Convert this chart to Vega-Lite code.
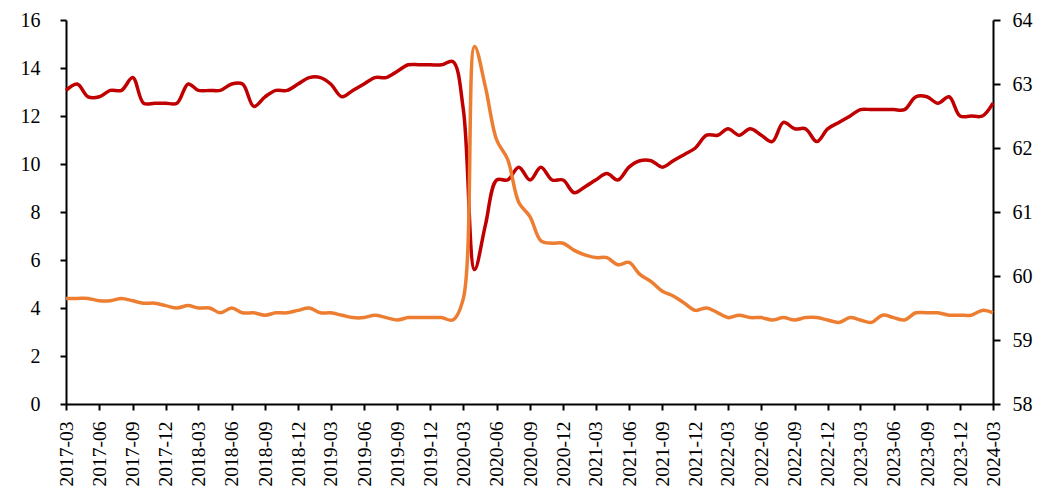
{
  "$schema": "https://vega.github.io/schema/vega-lite/v6.json",
  "width": 927,
  "height": 384,
  "autosize": {"type": "none"},
  "padding": {"left": 66, "top": 20, "right": 50, "bottom": 96},
  "background": "white",
  "config": {
    "view": {"stroke": null},
    "font": "Liberation Serif",
    "axis": {
      "labelFont": "Liberation Serif",
      "labelFontSize": 20,
      "labelColor": "black",
      "domainColor": "black",
      "tickColor": "black",
      "domainWidth": 2,
      "tickWidth": 2,
      "grid": false,
      "title": null,
      "labelOverlap": false,
      "labelBound": false,
      "labelFlush": false
    }
  },
  "data": {
    "values": [
      {"month": "2017-03", "u": 4.4, "p": 62.9},
      {"month": "2017-04", "u": 4.4, "p": 63.0},
      {"month": "2017-05", "u": 4.4, "p": 62.8},
      {"month": "2017-06", "u": 4.3, "p": 62.8},
      {"month": "2017-07", "u": 4.3, "p": 62.9},
      {"month": "2017-08", "u": 4.4, "p": 62.9},
      {"month": "2017-09", "u": 4.3, "p": 63.1},
      {"month": "2017-10", "u": 4.2, "p": 62.7},
      {"month": "2017-11", "u": 4.2, "p": 62.7},
      {"month": "2017-12", "u": 4.1, "p": 62.7},
      {"month": "2018-01", "u": 4.0, "p": 62.7},
      {"month": "2018-02", "u": 4.1, "p": 63.0},
      {"month": "2018-03", "u": 4.0, "p": 62.9},
      {"month": "2018-04", "u": 4.0, "p": 62.9},
      {"month": "2018-05", "u": 3.8, "p": 62.9},
      {"month": "2018-06", "u": 4.0, "p": 63.0},
      {"month": "2018-07", "u": 3.8, "p": 63.0},
      {"month": "2018-08", "u": 3.8, "p": 62.65},
      {"month": "2018-09", "u": 3.7, "p": 62.8},
      {"month": "2018-10", "u": 3.8, "p": 62.9},
      {"month": "2018-11", "u": 3.8, "p": 62.9},
      {"month": "2018-12", "u": 3.9, "p": 63.0},
      {"month": "2019-01", "u": 4.0, "p": 63.1},
      {"month": "2019-02", "u": 3.8, "p": 63.1},
      {"month": "2019-03", "u": 3.8, "p": 63.0},
      {"month": "2019-04", "u": 3.7, "p": 62.8},
      {"month": "2019-05", "u": 3.6, "p": 62.9},
      {"month": "2019-06", "u": 3.6, "p": 63.0},
      {"month": "2019-07", "u": 3.7, "p": 63.1},
      {"month": "2019-08", "u": 3.6, "p": 63.1},
      {"month": "2019-09", "u": 3.5, "p": 63.2},
      {"month": "2019-10", "u": 3.6, "p": 63.3},
      {"month": "2019-11", "u": 3.6, "p": 63.3},
      {"month": "2019-12", "u": 3.6, "p": 63.3},
      {"month": "2020-01", "u": 3.6, "p": 63.3},
      {"month": "2020-02", "u": 3.5, "p": 63.35},
      {"month": "2020-03", "u": 4.4, "p": 62.6},
      {"month": "2020-04", "u": 14.9, "p": 60.1},
      {"month": "2020-05", "u": 13.2, "p": 60.8},
      {"month": "2020-06", "u": 11.0, "p": 61.5},
      {"month": "2020-07", "u": 10.2, "p": 61.5},
      {"month": "2020-08", "u": 8.4, "p": 61.7},
      {"month": "2020-09", "u": 7.8, "p": 61.5},
      {"month": "2020-10", "u": 6.8, "p": 61.7},
      {"month": "2020-11", "u": 6.7, "p": 61.5},
      {"month": "2020-12", "u": 6.7, "p": 61.5},
      {"month": "2021-01", "u": 6.4, "p": 61.3},
      {"month": "2021-02", "u": 6.2, "p": 61.4},
      {"month": "2021-03", "u": 6.1, "p": 61.5},
      {"month": "2021-04", "u": 6.1, "p": 61.6},
      {"month": "2021-05", "u": 5.8, "p": 61.5},
      {"month": "2021-06", "u": 5.9, "p": 61.7},
      {"month": "2021-07", "u": 5.4, "p": 61.8},
      {"month": "2021-08", "u": 5.1, "p": 61.8},
      {"month": "2021-09", "u": 4.7, "p": 61.7},
      {"month": "2021-10", "u": 4.5, "p": 61.8},
      {"month": "2021-11", "u": 4.2, "p": 61.9},
      {"month": "2021-12", "u": 3.9, "p": 62.0},
      {"month": "2022-01", "u": 4.0, "p": 62.2},
      {"month": "2022-02", "u": 3.8, "p": 62.2},
      {"month": "2022-03", "u": 3.6, "p": 62.3},
      {"month": "2022-04", "u": 3.7, "p": 62.2},
      {"month": "2022-05", "u": 3.6, "p": 62.3},
      {"month": "2022-06", "u": 3.6, "p": 62.2},
      {"month": "2022-07", "u": 3.5, "p": 62.1},
      {"month": "2022-08", "u": 3.6, "p": 62.4},
      {"month": "2022-09", "u": 3.5, "p": 62.3},
      {"month": "2022-10", "u": 3.6, "p": 62.3},
      {"month": "2022-11", "u": 3.6, "p": 62.1},
      {"month": "2022-12", "u": 3.5, "p": 62.3},
      {"month": "2023-01", "u": 3.4, "p": 62.4},
      {"month": "2023-02", "u": 3.6, "p": 62.5},
      {"month": "2023-03", "u": 3.5, "p": 62.6},
      {"month": "2023-04", "u": 3.4, "p": 62.6},
      {"month": "2023-05", "u": 3.7, "p": 62.6},
      {"month": "2023-06", "u": 3.6, "p": 62.6},
      {"month": "2023-07", "u": 3.5, "p": 62.6},
      {"month": "2023-08", "u": 3.8, "p": 62.8},
      {"month": "2023-09", "u": 3.8, "p": 62.8},
      {"month": "2023-10", "u": 3.8, "p": 62.7},
      {"month": "2023-11", "u": 3.7, "p": 62.8},
      {"month": "2023-12", "u": 3.7, "p": 62.5},
      {"month": "2024-01", "u": 3.7, "p": 62.5},
      {"month": "2024-02", "u": 3.9, "p": 62.5},
      {"month": "2024-03", "u": 3.8, "p": 62.7}
    ]
  },
  "encoding": {
    "x": {
      "field": "month",
      "type": "temporal",
      "scale": {"type": "utc", "nice": false},
      "axis": {
        "values": [
          {"year": 2017, "month": 3, "utc": true}, {"year": 2017, "month": 6, "utc": true}, {"year": 2017, "month": 9, "utc": true}, {"year": 2017, "month": 12, "utc": true},
          {"year": 2018, "month": 3, "utc": true}, {"year": 2018, "month": 6, "utc": true}, {"year": 2018, "month": 9, "utc": true}, {"year": 2018, "month": 12, "utc": true},
          {"year": 2019, "month": 3, "utc": true}, {"year": 2019, "month": 6, "utc": true}, {"year": 2019, "month": 9, "utc": true}, {"year": 2019, "month": 12, "utc": true},
          {"year": 2020, "month": 3, "utc": true}, {"year": 2020, "month": 6, "utc": true}, {"year": 2020, "month": 9, "utc": true}, {"year": 2020, "month": 12, "utc": true},
          {"year": 2021, "month": 3, "utc": true}, {"year": 2021, "month": 6, "utc": true}, {"year": 2021, "month": 9, "utc": true}, {"year": 2021, "month": 12, "utc": true},
          {"year": 2022, "month": 3, "utc": true}, {"year": 2022, "month": 6, "utc": true}, {"year": 2022, "month": 9, "utc": true}, {"year": 2022, "month": 12, "utc": true},
          {"year": 2023, "month": 3, "utc": true}, {"year": 2023, "month": 6, "utc": true}, {"year": 2023, "month": 9, "utc": true}, {"year": 2023, "month": 12, "utc": true},
          {"year": 2024, "month": 3, "utc": true}
        ],
        "labelExpr": "utcFormat(datum.value, '%Y-%m')",
        "labelAngle": -90,
        "labelAlign": "right",
        "labelBaseline": "middle",
        "tickSize": 6,
        "labelPadding": 11,
        "labelFont": "Liberation Serif",
        "labelFontSize": 19.5
      }
    }
  },
  "layer": [
    {
      "mark": {"type": "line", "interpolate": "catmull-rom", "color": "#C00000", "strokeWidth": 3.5},
      "encoding": {
        "y": {
          "field": "p",
          "type": "quantitative",
          "scale": {"domain": [58, 64], "nice": false, "zero": false},
          "axis": {"orient": "right", "values": [58, 59, 60, 61, 62, 63, 64], "tickSize": 7, "labelPadding": 12, "labelFont": "Liberation Serif"}
        }
      }
    },
    {
      "mark": {"type": "line", "interpolate": "catmull-rom", "color": "#ED7D31", "strokeWidth": 3.5},
      "encoding": {
        "y": {
          "field": "u",
          "type": "quantitative",
          "scale": {"domain": [0, 16], "nice": false},
          "axis": {"orient": "left", "values": [0, 2, 4, 6, 8, 10, 12, 14, 16], "tickSize": 6, "labelPadding": 20, "labelFont": "Liberation Serif"}
        }
      }
    }
  ],
  "resolve": {"scale": {"y": "independent"}}
}
